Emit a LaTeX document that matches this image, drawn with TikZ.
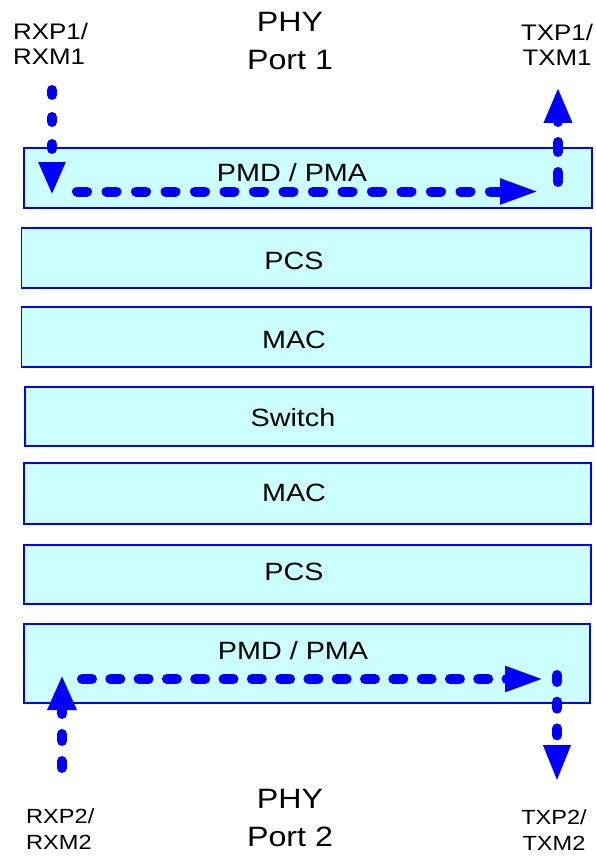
\documentclass[tikz,border=0pt]{standalone}
\usepackage{fontspec}
\setmainfont{Liberation Sans}[FakeStretch=1.15]
\usetikzlibrary{arrows.meta}
\definecolor{layerfill}{HTML}{CCFFFF}
\definecolor{flowblue}{HTML}{0000FF}
\begin{document}
\begin{tikzpicture}[x=1pt,y=-1pt,
  layer/.style={draw=flowblue, fill=layerfill, line width=1.8pt, inner sep=0pt},
  layertext/.style={inner sep=0pt, font=\fontsize{25}{29}\selectfont},
  phytext/.style={inner sep=0pt, align=center, font=\fontsize{28}{38}\selectfont},
  pintop/.style={inner sep=0pt, font=\fontsize{22.5}{25}\selectfont},
  pinbot/.style={inner sep=0pt, font=\fontsize{20.5}{26}\selectfont},
  flow/.style={draw=flowblue, line width=10pt, line cap=round}]
\useasboundingbox (0,0) rectangle (595,856);

% layer boxes
\node[layer, minimum width=568pt, minimum height=60pt] (pmd1) at (308,178) {};
\node[layer, minimum width=569.5pt, minimum height=60pt] (pcs1) at (306.25,258) {};
\node[layer, minimum width=569.5pt, minimum height=60pt] (mac1) at (306.25,337) {};
\node[layer, minimum width=568pt, minimum height=59pt] (sw) at (309,416.5) {};
\node[layer, minimum width=567pt, minimum height=61pt] (mac2) at (307.5,493.5) {};
\node[layer, minimum width=567pt, minimum height=59pt] (pcs2) at (307.5,574.5) {};
\node[layer, minimum width=566pt, minimum height=79pt] (pmd2) at (307,663.5) {};

% layer texts
\node[layertext] (tpmd1) at (292,173) {PMD / PMA};
\node[layertext] (tpcs1) at (294,261) {PCS};
\node[layertext] (tmac1) at (294,340) {MAC};
\node[layertext] (tsw) at (293,418) {Switch};
\node[layertext] (tmac2) at (294,493) {MAC};
\node[layertext] (tpcs2) at (294,572) {PCS};
\node[layertext] (tpmd2) at (293,651) {PMD / PMA};

% titles and pins
\node[phytext] (phy1) at (290,41) {PHY\\Port 1};
\node[phytext] (phy2) at (290,818) {PHY\\Port 2};
\node[pintop, align=left, anchor=west] (rx1) at (13,44) {RXP1/\\RXM1};
\node[pintop, align=center] (tx1) at (557,45) {TXP1/\\TXM1};
\node[pinbot, align=left, anchor=west] (rx2) at (26,829) {RXP2/\\RXM2};
\node[pinbot, align=center] (tx2) at (554,830) {TXP2/\\TXM2};

% flow coordinates
\coordinate (rx1s) at (52,90);
\coordinate (rx1e) at (52,195);
\coordinate (h1s) at (77,191.5);
\coordinate (h1e) at (540,191.5);
\coordinate (tx1s) at (558,182);
\coordinate (tx1e) at (558,87);
\coordinate (rx2s) at (62,768);
\coordinate (rx2e) at (62,675);
\coordinate (h2s) at (82,679);
\coordinate (h2e) at (545,679);
\coordinate (tx2s) at (557,675);
\coordinate (tx2e) at (557,782);

% flows
\draw[flow, dash pattern=on 5pt off 22pt, -{Triangle[length=33pt,width=25pt]}] (rx1s) -- (rx1e);
\draw[flow, dash pattern=on 10pt off 19.5pt, -{Triangle[length=40pt,width=23pt]}] (h1s) -- (h1e);
\draw[flow, dash pattern=on 10pt off 20pt, -{Triangle[length=36pt,width=26pt]}] (tx1s) -- (tx1e);
\draw[flow, dash pattern=on 7pt off 20pt, -{Triangle[length=35pt,width=27pt]}] (rx2s) -- (rx2e);
\draw[flow, dash pattern=on 10pt off 18.3pt, -{Triangle[length=40pt,width=23pt]}] (h2s) -- (h2e);
\draw[flow, dash pattern=on 7pt off 19.7pt, -{Triangle[length=37pt,width=25pt]}] (tx2s) -- (tx2e);
\end{tikzpicture}
\end{document}
